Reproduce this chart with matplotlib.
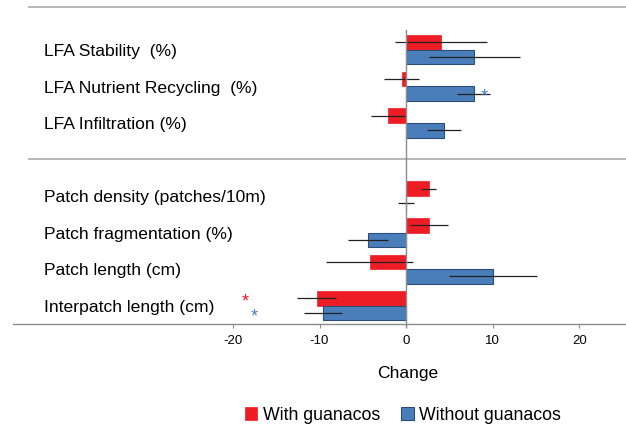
import numpy as np
import matplotlib
matplotlib.use("Agg")
import matplotlib.pyplot as plt
from matplotlib.transforms import blended_transform_factory

plt.rcParams['font.family'] = ['Liberation Sans', 'DejaVu Sans']
plt.rcParams['axes.unicode_minus'] = False

# categories from bottom to top, gap row between the two groups
categories = ["Interpatch length (cm)", "Patch length (cm)", "Patch fragmentation (%)",
              "Patch density (patches/10m)", "LFA Infiltration (%)",
              "LFA Nutrient Recycling  (%)", "LFA Stability  (%)"]
positions = [0, 1, 2, 3, 5, 6, 7]

with_guanacos = [-10.3, -4.2, 2.6, 2.6, -2.1, -0.5, 4.0]
with_err = [2.25, 5.0, 2.2, 0.9, 2.0, 2.0, 5.3]
without_guanacos = [-9.6, 10.0, -4.4, 0.0, 4.4, 7.8, 7.9]
without_err = [2.15, 5.1, 2.3, 0.9, 2.0, 1.95, 5.3]

# significance marks: (x, row, series)
stars = [(-18.6, 0, "with"), (-17.5, 0, "without"), (9.0, 6, "without")]

red = "#ee1c25"
blue = "#4a7ebb"
h = 0.4

fig = plt.figure(figsize=(6.26, 4.25), dpi=100)
ax = fig.add_axes([13 / 626, 1 - 324 / 425, 613 / 626, 317 / 425])

pos = np.array(positions)
ax.barh(pos + h / 2, with_guanacos, height=h, color=red, edgecolor=red,
        linewidth=0.5, label="With guanacos", zorder=2)
ax.barh(pos - h / 2, without_guanacos, height=h, color=blue, edgecolor="#2c4d75",
        linewidth=0.8, label="Without guanacos", zorder=2)
ax.errorbar(with_guanacos, pos + h / 2, xerr=with_err, fmt="none", ecolor="#222222",
            elinewidth=0.9, capsize=0, zorder=3)
ax.errorbar(without_guanacos, pos - h / 2, xerr=without_err, fmt="none", ecolor="#222222",
            elinewidth=0.9, capsize=0, zorder=3)

for x, row, series in stars:
    yy = row + h / 2 if series == "with" else row - h / 2
    ax.text(x, yy - 0.1, "*", color=red if series == "with" else blue,
            fontsize=13, ha="center", va="center")

ax.set_xlim(-45.4, 25.4)
ax.set_ylim(-0.5, 8.17)

# zero line and group separators
ax.plot([0, 0], [-0.57, 7.55], color="#8c8c8c", lw=1.0, zorder=4, clip_on=False)
xmin_frac = 16 / 613
ax.axhline(4, xmin=xmin_frac, color="#b0b0b0", lw=1.3)
ax.axhline(8.17, xmin=xmin_frac, color="#b0b0b0", lw=1.3, clip_on=False)

for s in ["top", "right", "left"]:
    ax.spines[s].set_visible(False)
ax.spines["bottom"].set_color("#8c8c8c")
ax.spines["bottom"].set_linewidth(1.0)

ax.set_yticks([])
ax.set_xticks([-20, -10, 0, 10, 20])
ax.tick_params(axis="x", length=3, color="#8c8c8c", labelsize=9.5, pad=5)

trans = blended_transform_factory(ax.transAxes, ax.transData)
for label, p in zip(categories, positions):
    ax.text(31 / 613, p - 0.05, label, transform=trans, ha="left", va="center",
            fontsize=12.6)

ax.set_xlabel("Change", fontsize=12.6)
ax.xaxis.set_label_coords(395 / 613, -42 / 317)

fig.legend(loc="center", bbox_to_anchor=(403 / 626, 10 / 425), ncol=2, frameon=False,
           fontsize=12.8, handlelength=0.7, handleheight=0.7, handletextpad=0.3,
           columnspacing=1.2)

fig.savefig("out.png", dpi=100)
